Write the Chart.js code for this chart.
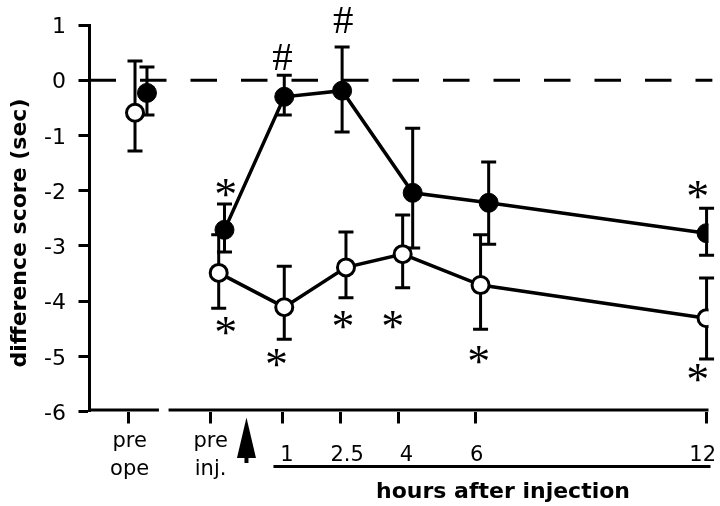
<!DOCTYPE html>
<html>
<head>
<meta charset="utf-8">
<script src="https://cdn.jsdelivr.net/npm/chart.js@4/dist/chart.umd.min.js"></script>
<style>
  html, body { margin: 0; padding: 0; background: #fff; }
  #wrap { width: 720px; height: 506px; }
</style>
</head>
<body>
<div id="wrap"><canvas id="c" width="720" height="506"></canvas></div>
<script>
// ---- data ----
const xTickHours  = [-3, -0.86, 1, 2.5, 4, 6, 12];          // tick-mark positions (hours)
const xLabelHours = [-2.96, -0.86, 1.12, 2.68, 4.22, 6.04, 11.9]; // where the labels sit
const xTickLabels = [['pre', 'ope'], ['pre', 'inj.'], '1', '2.5', '4', '6', '12'];

const filledHours = [-2.51, -0.50, 1.05, 2.55, 4.38, 6.35, 12];
const filledMean  = [-0.23, -2.71, -0.30, -0.19, -2.04, -2.22, -2.77];
const filledUpper = [0.24, -2.24, 0.09, 0.60, -0.87, -1.48, -2.32];
const filledLower = [-0.63, -3.11, -0.63, -0.94, -3.04, -2.97, -3.17];

const openHours = [-2.82, -0.65, 1.05, 2.65, 4.12, 6.14, 12];
const openMean  = [-0.59, -3.49, -4.11, -3.39, -3.15, -3.71, -4.31];
const openUpper = [0.35, -2.80, -3.37, -2.75, -2.44, -2.80, -3.58];
const openLower = [-1.28, -4.13, -4.69, -3.94, -3.76, -4.51, -5.05];

const sigText  = ['*', '#', '#', '*', '*', '*', '*', '*', '*', '*'];
const sigHours = [-0.47, 1.0, 2.57, 11.77, -0.47, 0.85, 2.57, 3.86, 6.09, 11.77];
const sigValue = [-1.95, 0.42, 1.09, -1.99, -4.45, -5.03, -4.34, -4.34, -4.98, -5.30];

const injectionHour = 0.07;
const yTitle = 'difference score (sec)';
const xTitle = 'hours after injection';

// ---- helpers ----
const SANS = '"DejaVu Sans", sans-serif';
const SERIF = '"Liberation Serif", "Times New Roman", serif';

function pts(xs, ys) { return xs.map((x, i) => ({ x: x, y: ys[i] })); }

function drawBars(ctx, xs, ups, lows, xScale, yScale) {
  const cap = 7.5;
  ctx.beginPath();
  xs.forEach((h, i) => {
    const px = xScale.getPixelForValue(h);
    const yt = yScale.getPixelForValue(ups[i]);
    const yb = yScale.getPixelForValue(lows[i]);
    ctx.moveTo(px, yt); ctx.lineTo(px, yb);
    ctx.moveTo(px - cap, yt); ctx.lineTo(px + cap, yt);
    ctx.moveTo(px - cap, yb); ctx.lineTo(px + cap, yb);
  });
  ctx.stroke();
}

function drawSymbol(ctx, text, cx, cy, targetH) {
  ctx.textAlign = 'left';
  ctx.textBaseline = 'alphabetic';
  ctx.font = '100px ' + SERIF;
  const m = ctx.measureText(text);
  const h = m.actualBoundingBoxAscent + m.actualBoundingBoxDescent;
  const size = 100 * targetH / h;
  ctx.font = size.toFixed(2) + 'px ' + SERIF;
  const m2 = ctx.measureText(text);
  const left = -m2.actualBoundingBoxLeft, right = m2.actualBoundingBoxRight;
  const asc = m2.actualBoundingBoxAscent, desc = m2.actualBoundingBoxDescent;
  ctx.fillText(text, cx - (left + right) / 2, cy + (asc - desc) / 2);
}

const decorations = {
  id: 'decorations',
  beforeDatasetsDraw(chart) {
    const ctx = chart.ctx, xs = chart.scales.x, ys = chart.scales.y;
    ctx.save();
    ctx.strokeStyle = '#000';
    ctx.lineWidth = 3;
    ctx.lineCap = 'butt';
    drawBars(ctx, filledHours, filledUpper, filledLower, xs, ys);
    drawBars(ctx, openHours, openUpper, openLower, xs, ys);
    ctx.restore();
  },
  afterDraw(chart) {
    const ctx = chart.ctx, xs = chart.scales.x, ys = chart.scales.y;
    const a = chart.chartArea;
    ctx.save();
    ctx.strokeStyle = '#000';
    ctx.fillStyle = '#000';
    ctx.lineWidth = 3;
    // broken x axis line
    const yAx = a.bottom - 1.5;
    ctx.beginPath();
    ctx.moveTo(a.left - 1.5, yAx); ctx.lineTo(xs.getPixelForValue(-2.2), yAx);
    ctx.moveTo(xs.getPixelForValue(-1.95), yAx); ctx.lineTo(a.right, yAx);
    ctx.stroke();
    // injection arrow
    const ax = xs.getPixelForValue(injectionHour);
    const tipY = a.bottom + 6, baseY = a.bottom + 46.5;
    ctx.beginPath();
    ctx.moveTo(ax, tipY);
    ctx.lineTo(ax + 9.5, baseY);
    ctx.lineTo(ax - 9.5, baseY);
    ctx.closePath();
    ctx.fill();
    ctx.fillRect(ax - 2, baseY - 1, 4, 6);
    // underline for hours
    const uy = a.bottom + 55;
    ctx.beginPath();
    ctx.moveTo(xs.getPixelForValue(0.77), uy); ctx.lineTo(a.right + 2, uy);
    ctx.stroke();
    // axis titles
    ctx.font = 'bold 22px ' + SANS;
    ctx.textAlign = 'center';
    ctx.textBaseline = 'alphabetic';
    ctx.fillText(xTitle, 503, 498);
    ctx.save();
    ctx.translate(26, 233);
    ctx.rotate(-Math.PI / 2);
    ctx.fillText(yTitle, 0, 0);
    ctx.restore();
    // significance marks
    sigText.forEach((t, i) => {
      const px = xs.getPixelForValue(sigHours[i]);
      const py = ys.getPixelForValue(sigValue[i]);
      drawSymbol(ctx, t, px, py, t === '#' ? 27 : 17);
    });
    ctx.restore();
  }
};

new Chart(document.getElementById('c'), {
  type: 'scatter',
  data: {
    datasets: [
      {
        label: 'open',
        data: pts(openHours, openMean),
        showLine: true,
        borderColor: '#000',
        borderWidth: 3.5,
        pointRadius: 8.5,
        pointBorderWidth: 3,
        pointBackgroundColor: '#fff',
        pointBorderColor: '#000',
        segment: { borderColor: c => c.p0DataIndex === 0 ? 'rgba(0,0,0,0)' : '#000' },
        order: 0
      },
      {
        label: 'filled',
        data: pts(filledHours, filledMean),
        showLine: true,
        borderColor: '#000',
        borderWidth: 3.5,
        pointRadius: 9.5,
        pointBorderWidth: 1,
        pointBackgroundColor: '#000',
        pointBorderColor: '#000',
        segment: { borderColor: c => c.p0DataIndex === 0 ? 'rgba(0,0,0,0)' : '#000' },
        order: 1
      },
      {
        label: 'zero',
        data: [{ x: -4, y: 0 }, { x: 12.15, y: 0 }],
        showLine: true,
        borderColor: '#000',
        borderWidth: 3,
        borderDash: [26.5, 24],
        pointRadius: 0,
        clip: false,
        order: 2
      }
    ]
  },
  options: {
    responsive: false,
    devicePixelRatio: 1,
    animation: false,
    events: [],
    layout: { padding: { top: 25, right: 9, left: 0, bottom: 0 } },
    plugins: { legend: { display: false }, tooltip: { enabled: false }, title: { display: false } },
    scales: {
      x: {
        type: 'linear',
        position: 'bottom',
        weight: 0,
        min: -4,
        max: 12.05,
        afterBuildTicks: s => { s.ticks = xTickHours.map(v => ({ value: v })); },
        afterFit: s => { s.height = 12; s.paddingLeft = 0; s.paddingRight = 0; },
        ticks: { display: false, autoSkip: false, maxRotation: 0, minRotation: 0 },
        grid: { drawOnChartArea: false, drawTicks: true, tickLength: 12, tickWidth: 3, tickColor: '#000' },
        border: { display: false }
      },
      xLabels: {
        type: 'linear',
        position: 'bottom',
        weight: 1,
        min: -4,
        max: 12.05,
        afterBuildTicks: s => { s.ticks = xLabelHours.map(v => ({ value: v })); },
        afterFit: s => { s.height = 82.5; s.paddingLeft = 0; s.paddingRight = 0; },
        ticks: {
          autoSkip: false,
          maxRotation: 0,
          minRotation: 0,
          crossAlign: 'center',
          padding: 18.5,
          color: '#000',
          font: { family: SANS, size: 21, lineHeight: 1.3 },
          callback: (v, i) => xTickLabels[i]
        },
        grid: { display: false, drawOnChartArea: false, drawTicks: false },
        border: { display: false }
      },
      y: {
        type: 'linear',
        min: -6,
        max: 1,
        afterFit: s => { s.width = 89.5; s.paddingTop = 0; s.paddingBottom = 0; },
        ticks: {
          stepSize: 0.5,
          padding: 12.5,
          labelOffset: 2.5,
          color: '#000',
          font: { family: SANS, size: 22 },
          callback: v => (Math.abs(v % 1) < 1e-9 ? String(v) : '')
        },
        grid: { drawOnChartArea: false, drawTicks: true, tickLength: 11, tickWidth: 3, tickColor: '#000' },
        border: { display: true, color: '#000', width: 3 }
      }
    }
  },
  plugins: [decorations]
});
</script>
</body>
</html>
